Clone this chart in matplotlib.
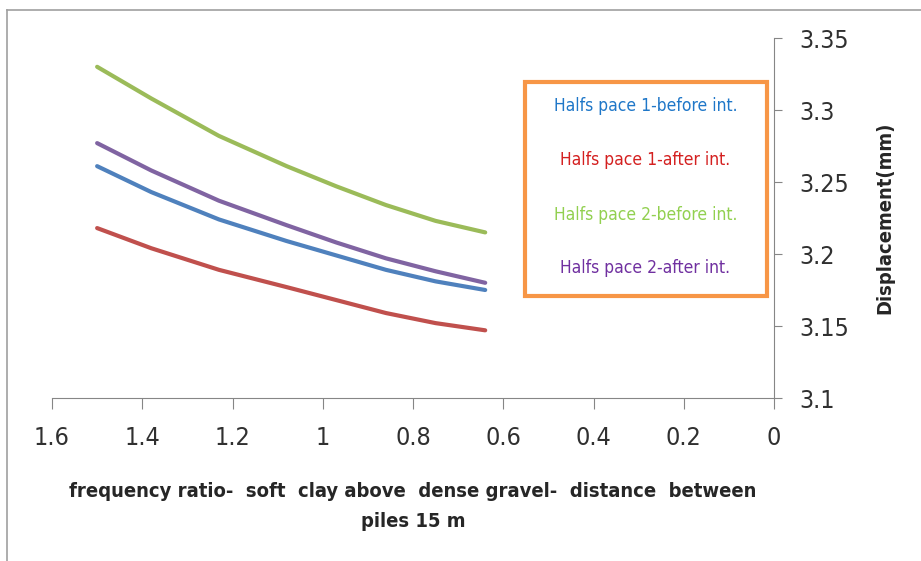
import numpy as np
import matplotlib.pyplot as plt
from matplotlib.lines import Line2D
from matplotlib.patches import Rectangle

plt.rcParams['font.family'] = ['DejaVu Sans']
plt.rcParams['font.stretch'] = 'condensed'

# frequency ratio (x) and displacement in mm for each case
ratio = [1.5, 1.38, 1.23, 1.08, 0.97, 0.86, 0.75, 0.64]
hs1_before = [3.261, 3.243, 3.224, 3.209, 3.199, 3.189, 3.181, 3.175]
hs1_after = [3.218, 3.204, 3.189, 3.177, 3.168, 3.159, 3.152, 3.147]
hs2_before = [3.330, 3.308, 3.282, 3.261, 3.247, 3.234, 3.223, 3.215]
hs2_after = [3.277, 3.258, 3.237, 3.220, 3.208, 3.197, 3.188, 3.180]

nombres = ['Halfs pace 1-before int.', 'Halfs pace 1-after int.',
           'Halfs pace 2-before int.', 'Halfs pace 2-after int.']
series = [hs1_before, hs1_after, hs2_before, hs2_after]
col_linea = ['#4F81BD', '#C0504D', '#9BBB59', '#8064A2']
col_texto = ['#1F77C8', '#D42020', '#92D050', '#7030A0']

xticks = [1.6, 1.4, 1.2, 1, 0.8, 0.6, 0.4, 0.2, 0]
xlabels = ['1.6', '1.4', '1.2', '1', '0.8', '0.6', '0.4', '0.2', '0']
yticks = [3.1, 3.15, 3.2, 3.25, 3.3, 3.35]
ylabels = ['3.1', '3.15', '3.2', '3.25', '3.3', '3.35']

fig = plt.figure(figsize=(9.21, 5.61), dpi=100)
ax = fig.add_axes([52/921, 1-398/561, 722/921, 360/561])

for ys, c in zip(series, col_linea):
    ax.plot(ratio, ys, color=c, lw=3, solid_capstyle='round', solid_joinstyle='round')

ax.set_xlim(1.6, 0)
ax.set_ylim(3.1, 3.35)
ax.set_xticks(xticks)
ax.set_xticklabels(xlabels)
ax.set_yticks(yticks)
ax.set_yticklabels(ylabels)

gris = '#868686'
for s in ['top', 'left']:
    ax.spines[s].set_visible(False)
ax.spines['bottom'].set_color(gris)
ax.spines['right'].set_color(gris)
ax.yaxis.tick_right()
ax.yaxis.set_label_position('right')
ax.tick_params(axis='x', direction='out', length=8, color=gris, pad=12,
               labelsize=18, labelcolor='#303030')
ax.tick_params(axis='y', direction='out', length=6, color=gris, pad=12,
               labelsize=18, labelcolor='#303030')

ax.set_xlabel('frequency ratio-  soft  clay above  dense gravel-  distance  between\npiles 15 m',
              fontsize=14.5, fontweight='bold', color='#262626', labelpad=23, linespacing=1.75)
ax.set_ylabel('Displacement(mm)', fontsize=14.5, fontweight='bold', color='#262626')
ax.yaxis.set_label_coords(1.141, 0.5)

# legend box, entries written in the colour of their series
ax.add_patch(Rectangle((0.655, 0.283), 0.335, 0.595, transform=ax.transAxes,
                       facecolor='white', edgecolor='#F79646', lw=3, zorder=5))
for nombre, c, yy in zip(nombres, col_texto, [0.811, 0.661, 0.508, 0.361]):
    ax.text(0.822, yy, nombre, transform=ax.transAxes, color=c, fontsize=12.5,
            ha='center', va='center', zorder=6)

# outer frame of the chart area
fig.add_artist(Line2D([7/921, 1], [1-10/561, 1-10/561], color='#A0A0A0', lw=1.2))
fig.add_artist(Line2D([7/921, 7/921], [0, 1-10/561], color='#A0A0A0', lw=1.2))

fig.savefig('out.png', dpi=100)
